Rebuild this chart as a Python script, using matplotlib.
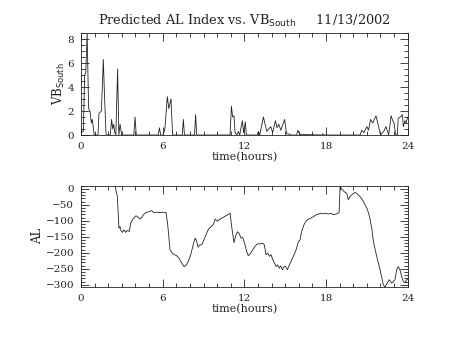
import matplotlib
matplotlib.use("Agg")
import matplotlib.pyplot as plt
from matplotlib.ticker import MultipleLocator

# VB_South (solar wind driver), hours vs value
vb_hours = [0.00, 0.17, 0.27, 0.35, 0.45, 0.56, 0.66, 0.76, 0.83, 0.97,
            1.25, 1.32, 1.50, 1.64, 1.72, 1.84,
            2.15, 2.25, 2.33, 2.40, 2.48, 2.56, 2.69, 2.78, 2.87, 2.99,
            3.88, 3.97, 4.06,
            5.68, 5.76, 5.86, 6.05, 6.17, 6.34, 6.45, 6.61, 6.73,
            7.44, 7.52, 7.60,
            8.34, 8.42, 8.50,
            10.95, 11.05, 11.14, 11.24, 11.32, 11.45, 11.56, 11.66, 11.85, 11.95, 12.07, 12.15,
            12.95, 13.03, 13.13, 13.40, 13.65, 13.94, 14.08, 14.28, 14.40, 14.53, 14.68,
            14.96, 15.10, 15.23, 15.45, 15.85, 15.92, 16.08,
            17.70, 17.76, 17.84,
            20.50, 20.62, 20.78, 21.00, 21.12, 21.28, 21.43, 21.67, 21.80, 22.00,
            22.24, 22.40, 22.52, 22.60, 22.78, 22.90, 23.00, 23.10, 23.24, 23.30,
            23.47, 23.61, 23.68, 23.80, 23.88, 24.00]
vb_values = [0.2, 0.3, 5.0, 5.2, 8.5, 2.2, 2.0, 1.0, 1.3, 0.0,
             0.0, 1.8, 2.0, 6.3, 3.5, 0.0,
             0.0, 1.3, 0.5, 0.9, 0.2, 0.0, 5.5, 0.0, 0.9, 0.0,
             0.0, 1.5, 0.0,
             0.0, 0.6, 0.0, 0.0, 0.6, 3.2, 2.2, 3.0, 0.0,
             0.0, 1.3, 0.0,
             0.0, 1.7, 0.0,
             0.0, 2.4, 1.5, 1.6, 0.2, 0.0, 0.3, 0.0, 1.2, 0.2, 1.1, 0.0,
             0.0, 0.3, 0.0, 1.5, 0.3, 0.7, 0.2, 1.2, 0.6, 0.9, 0.4,
             1.3, 0.1, 0.1, 0.0, 0.0, 0.4, 0.05,
             0.0, 0.1, 0.0,
             0.0, 0.4, 0.2, 0.7, 0.4, 1.3, 1.0, 1.6, 1.0, 0.0,
             0.3, 0.7, 0.3, 0.0, 1.6, 1.2, 1.0, 0.1, 0.0, 1.4,
             1.5, 1.7, 0.7, 1.2, 1.0, 1.5]

# Predicted AL index, hours vs nT
al_hours = [2.50, 2.67, 2.79, 2.87, 2.94, 3.04, 3.16, 3.28, 3.40, 3.55, 3.65,
            3.85, 4.04, 4.21, 4.38, 4.58, 4.77, 5.02, 5.19, 5.36, 5.56, 5.80,
            6.05, 6.25, 6.37, 6.54, 6.71, 6.86, 7.03, 7.20, 7.40, 7.57, 7.71,
            7.89, 8.06, 8.20, 8.30, 8.40, 8.50, 8.60, 8.72, 8.87, 9.04, 9.18,
            9.36, 9.53, 9.72, 9.85, 10.02, 10.21, 10.41, 10.58, 10.77, 10.95,
            11.07, 11.24, 11.36, 11.49, 11.61, 11.76, 11.88, 12.05, 12.17,
            12.29, 12.46, 12.61, 12.78, 12.96, 13.15, 13.35, 13.47, 13.59,
            13.72, 13.84, 13.96, 14.08, 14.21, 14.33, 14.45, 14.57, 14.67,
            14.80, 14.92, 15.04, 15.16, 15.31, 15.48, 15.65, 15.80, 15.97,
            16.09, 16.21, 16.38, 16.53, 16.70, 16.87, 17.07, 17.27, 17.44,
            17.61, 17.81, 18.00, 18.17, 18.35, 18.55, 18.79, 18.96, 19.03,
            19.15, 19.32, 19.52, 19.64, 19.76, 19.96, 20.13, 20.30, 20.50,
            20.70, 20.87, 21.04, 21.19, 21.36, 21.48, 21.72, 21.97, 22.21,
            22.33, 22.50, 22.65, 22.82, 22.95, 23.07, 23.19, 23.31, 23.43,
            23.56, 23.68, 23.80, 23.92, 24.00]
al_values = [10, -24, -123, -118, -130, -136, -128, -136, -130, -133, -107,
             -92, -84, -90, -94, -81, -74, -71, -68, -74, -73, -74,
             -73, -74, -112, -191, -201, -206, -209, -217, -232, -243, -240,
             -226, -206, -182, -165, -154, -165, -182, -175, -175, -159, -144,
             -126, -119, -112, -95, -101, -95, -90, -86, -81, -76,
             -118, -168, -147, -134, -139, -154, -152, -175, -196,
             -209, -201, -191, -180, -172, -172, -170, -175, -206,
             -201, -211, -206, -220, -232, -243, -238, -248, -241,
             -253, -243, -243, -253, -238, -222, -206, -191, -165,
             -160, -133, -112, -101, -95, -92, -87, -81, -79,
             -76, -78, -76, -79, -76, -81, -78, -74, 7,
             0, -8, -14, -34, -24, -16, -11, -16, -24,
             -36, -50, -64, -86, -123, -165, -211, -253, -300,
             -307, -295, -284, -295, -290, -284, -253, -243, -253,
             -274, -290, -293, -284, -284]

serif = ["DejaVu Serif"]
tick_fs = 7.5
ink = "#222222"

fig = plt.figure(figsize=(4.53, 3.40), dpi=100)
ax1 = fig.add_axes([0.1788, 0.6029, 0.7212, 0.300])
ax2 = fig.add_axes([0.1788, 0.1568, 0.7212, 0.297])


def style(ax):
    ax.set_xlim(0, 24)
    ax.xaxis.set_major_locator(MultipleLocator(6))
    ax.xaxis.set_minor_locator(MultipleLocator(1))
    ax.tick_params(which="both", direction="in", top=True, right=True,
                   width=0.6, labelsize=tick_fs, colors=ink)
    ax.tick_params(which="major", length=6, pad=5)
    ax.tick_params(which="minor", length=3)
    for s in ax.spines.values():
        s.set_linewidth(0.6)
        s.set_color(ink)
    for lab in ax.get_xticklabels() + ax.get_yticklabels():
        lab.set_family(serif)
    ax.set_xlabel("time(hours)", fontsize=8, family=serif, labelpad=1,
                  color=ink)


ax1.plot(vb_hours, vb_values, color=ink, lw=0.6)
ax1.set_ylim(0, 8.5)
ax1.yaxis.set_major_locator(MultipleLocator(2))
ax1.yaxis.set_minor_locator(MultipleLocator(0.5))
style(ax1)
ax1.set_ylabel(r"VB$_{\rm South}$", fontsize=8.5, family=serif, labelpad=0,
               color=ink)
ax1.set_title(r"Predicted AL Index vs. VB$_{\rm South}$     11/13/2002",
              fontsize=9.3, family=serif, pad=6, color=ink)

ax2.plot(al_hours, al_values, color=ink, lw=0.6)
ax2.set_ylim(-306, 10)
ax2.yaxis.set_major_locator(MultipleLocator(50))
ax2.yaxis.set_minor_locator(MultipleLocator(10))
style(ax2)
ax2.set_ylabel("AL", fontsize=8.5, family=serif, labelpad=1, color=ink)

fig.savefig("out.png", dpi=100)
